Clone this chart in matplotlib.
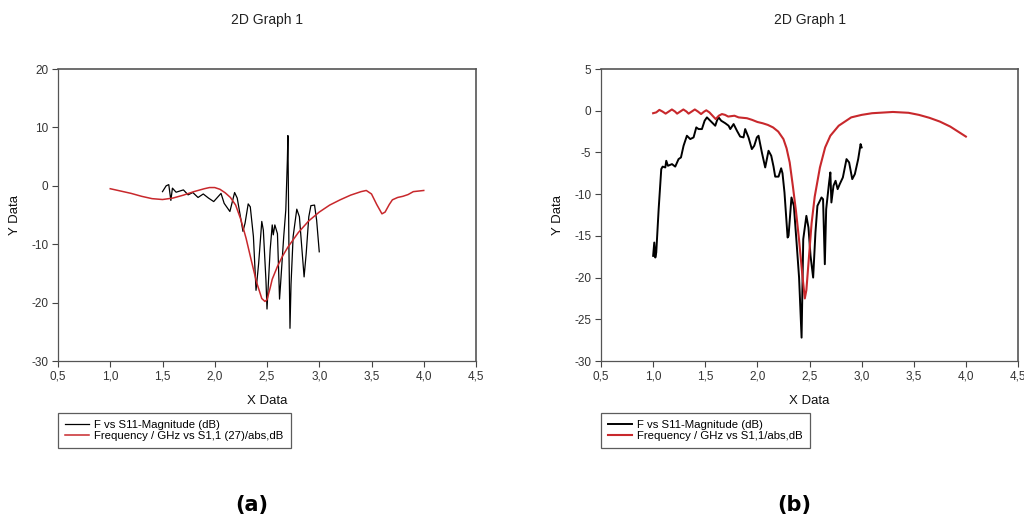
import matplotlib
matplotlib.use("Agg")
import matplotlib.pyplot as plt
from matplotlib.ticker import FuncFormatter

plt.rcParams["font.family"] = ["Liberation Sans", "DejaVu Sans"]
plt.rcParams["axes.unicode_minus"] = False

# ---- panel (a) ----
a_meas_x = [1.50, 1.535, 1.56, 1.58, 1.595, 1.63, 1.70, 1.745, 1.79, 1.84, 1.89, 1.94,
            1.99, 2.02, 2.06, 2.09, 2.145, 2.19, 2.215, 2.27, 2.29, 2.32, 2.34, 2.37,
            2.395, 2.42, 2.45, 2.465, 2.49, 2.50, 2.53, 2.55, 2.56, 2.575, 2.60, 2.62,
            2.63, 2.66, 2.68, 2.695, 2.70, 2.71, 2.72, 2.73, 2.75, 2.785, 2.81, 2.83,
            2.855, 2.875, 2.90, 2.92, 2.955, 2.975, 3.00]
a_meas_y = [-1.0, 0.0, 0.2, -2.5, -0.4, -1.1, -0.7, -1.55, -1.15, -2.0, -1.4, -2.1,
            -2.7, -2.1, -1.3, -3.0, -4.4, -1.15, -2.1, -7.8, -6.4, -3.1, -3.6, -8.7,
            -17.9, -13.3, -6.1, -7.6, -16.2, -21.1, -11.0, -6.7, -8.4, -6.7, -8.2, -19.4,
            -16.8, -8.7, -4.1, 4.5, 8.6, -11.0, -24.4, -16.8, -8.7, -4.0, -5.3, -9.9,
            -15.6, -11.6, -5.3, -3.4, -3.3, -5.9, -11.3]

a_sim_x = [1.0, 1.1, 1.2, 1.3, 1.4, 1.5, 1.6, 1.7, 1.8, 1.9, 1.95, 2.0, 2.05, 2.1,
           2.15, 2.2, 2.25, 2.3, 2.35, 2.4, 2.45, 2.48, 2.5, 2.53, 2.55, 2.6, 2.65,
           2.7, 2.8, 2.9, 3.0, 3.1, 3.2, 3.3, 3.4, 3.45, 3.5, 3.55, 3.6, 3.63, 3.67,
           3.7, 3.75, 3.8, 3.85, 3.9, 3.95, 4.0]
a_sim_y = [-0.5, -0.9, -1.3, -1.8, -2.2, -2.35, -2.1, -1.6, -1.0, -0.5, -0.3, -0.3,
           -0.6, -1.2, -2.0, -3.3, -5.8, -9.0, -12.8, -16.5, -19.3, -19.8, -19.5,
           -17.5, -16.0, -13.8, -12.0, -10.5, -8.0, -6.0, -4.5, -3.3, -2.4, -1.6,
           -1.0, -0.8, -1.4, -3.2, -4.8, -4.5, -3.2, -2.4, -2.0, -1.8, -1.5, -1.0,
           -0.9, -0.8]

# ---- panel (b) ----
b_meas_x = [1.00, 1.011, 1.021, 1.030, 1.053, 1.078, 1.091, 1.117, 1.126, 1.142, 1.181,
            1.212, 1.244, 1.267, 1.292, 1.324, 1.356, 1.388, 1.414, 1.436, 1.468, 1.494,
            1.516, 1.532, 1.564, 1.596, 1.612, 1.628, 1.653, 1.692, 1.724, 1.740, 1.772,
            1.804, 1.835, 1.867, 1.883, 1.915, 1.947, 1.970, 1.995, 2.011, 2.043, 2.075,
            2.107, 2.133, 2.155, 2.171, 2.203, 2.228, 2.241, 2.260, 2.290, 2.299, 2.327,
            2.35, 2.376, 2.40, 2.424, 2.44, 2.47, 2.49, 2.51, 2.535, 2.557, 2.576, 2.615,
            2.63, 2.647, 2.66, 2.688, 2.70, 2.71, 2.73, 2.75, 2.77, 2.79, 2.82, 2.855,
            2.88, 2.91, 2.935, 2.967, 2.99, 3.00]
b_meas_y = [-17.4, -15.8, -17.6, -17.0, -11.8, -7.0, -6.7, -6.8, -6.0, -6.6, -6.4,
            -6.7, -5.8, -5.6, -4.2, -3.0, -3.4, -3.2, -2.0, -2.2, -2.2, -1.2,
            -0.8, -1.0, -1.4, -1.8, -1.2, -0.8, -1.2, -1.5, -1.8, -2.2, -1.6,
            -2.4, -3.1, -3.2, -2.2, -3.2, -4.6, -4.2, -3.2, -3.0, -5.0, -6.8,
            -4.8, -5.4, -6.7, -7.9, -7.9, -6.9, -7.5, -9.8, -15.2, -15.0, -10.4,
            -11.4, -15.8, -20.0, -27.2, -15.4, -12.6, -14.0, -17.4, -20.0, -14.6, -11.4, -10.4,
            -10.6, -18.4, -11.8, -8.6, -7.4, -11.0, -9.0, -8.4, -9.4, -8.8, -8.0, -5.8,
            -6.2, -8.2, -7.6, -5.8, -4.0, -4.4]

b_sim_x = [1.0, 1.03, 1.06, 1.09, 1.12, 1.15, 1.18, 1.21, 1.23, 1.26, 1.29, 1.32, 1.34,
           1.37, 1.40, 1.43, 1.46, 1.49, 1.51, 1.54, 1.57, 1.60, 1.63, 1.66, 1.69, 1.72,
           1.75, 1.78, 1.82, 1.86, 1.9, 1.95, 2.0, 2.05, 2.1, 2.15, 2.2, 2.25, 2.28,
           2.31, 2.34, 2.37, 2.40, 2.43, 2.455, 2.47, 2.49, 2.52, 2.55, 2.6, 2.65, 2.7,
           2.78, 2.9, 3.0, 3.1, 3.3, 3.45, 3.55, 3.65, 3.75, 3.85, 3.95, 4.0]
b_sim_y = [-0.3, -0.2, 0.1, -0.1, -0.35, -0.1, 0.15, -0.1, -0.35, -0.1, 0.15, -0.1,
           -0.35, -0.1, 0.15, -0.1, -0.4, -0.1, 0.05, -0.2, -0.6, -1.0, -0.6, -0.4,
           -0.5, -0.7, -0.65, -0.6, -0.8, -0.85, -0.9, -1.1, -1.35, -1.5, -1.7, -2.0,
           -2.5, -3.4, -4.5, -6.2, -9.0, -12.0, -15.5, -19.5, -22.5, -21.5, -18.3,
           -13.5, -10.3, -6.8, -4.4, -3.0, -1.8, -0.8, -0.5, -0.3, -0.15, -0.25,
           -0.5, -0.85, -1.3, -1.9, -2.7, -3.1]

x_ticks = [0.5, 1.0, 1.5, 2.0, 2.5, 3.0, 3.5, 4.0, 4.5]
a_yticks = [-30, -20, -10, 0, 10, 20]
b_yticks = [-30, -25, -20, -15, -10, -5, 0, 5]

meas_label = "F vs S11-Magnitude (dB)"
a_sim_label = "Frequency / GHz vs S1,1 (27)/abs,dB"
b_sim_label = "Frequency / GHz vs S1,1/abs,dB"

fig = plt.figure(figsize=(10.24, 5.19), dpi=100)
W, H = 1024.0, 519.0

comma = FuncFormatter(lambda v, p: f"{v:.1f}".replace(".", ","))


def setup(ax, yticks):
    ax.set_xlim(0.5, 4.5)
    ax.set_ylim(yticks[0], yticks[-1])
    ax.set_xticks(x_ticks)
    ax.set_yticks(yticks)
    ax.xaxis.set_major_formatter(comma)
    ax.tick_params(direction="out", length=4, width=0.8, labelsize=8.5,
                   colors="#444444", labelcolor="#333333", pad=3)
    for s in ax.spines.values():
        s.set_color("#555555")
        s.set_linewidth(0.9)
    ax.spines["top"].set_linewidth(1.2)
    ax.spines["right"].set_linewidth(1.2)


panels = [
    ((58, 476), a_meas_x, a_meas_y, a_sim_x, a_sim_y, a_yticks, a_sim_label, "(a)", 0.9, 1.1),
    ((601, 1018), b_meas_x, b_meas_y, b_sim_x, b_sim_y, b_yticks, b_sim_label, "(b)", 1.4, 1.5),
]

for (x0, x1), mx, my, sx, sy, yt, slab, tag, lw_m, lw_s in panels:
    ax = fig.add_axes([x0 / W, 1 - 361 / H, (x1 - x0) / W, (361 - 69) / H])
    ax.plot(mx, my, color="black", lw=lw_m, label=meas_label)
    ax.plot(sx, sy, color="#c8282c", lw=lw_s, label=slab)
    setup(ax, yt)
    cx = (x0 + x1) / 2 / W
    fig.text(cx, 1 - 20 / H, "2D Graph 1", ha="center", va="center", fontsize=10, color="#222222")
    fig.text(cx, 1 - 401 / H, "X Data", ha="center", va="center", fontsize=9.5, color="#111111")
    fig.text((x0 - 43) / W, 1 - 215 / H, "Y Data", ha="center", va="center", rotation=90,
             fontsize=9.5, color="#111111")
    leg = ax.legend(loc="upper left", bbox_to_anchor=(x0 / W, 1 - 413 / H),
                    bbox_transform=fig.transFigure, fontsize=8.2, frameon=True, fancybox=False,
                    handlelength=2.1, handletextpad=0.5, borderpad=0.6, labelspacing=0.1,
                    borderaxespad=0)
    leg.get_frame().set_edgecolor("#333333")
    leg.get_frame().set_linewidth(0.9)
    fig.text((x0 + x1) / 2 / W - 15 / W, 1 - 505 / H, tag, ha="center", va="center",
             fontsize=15, fontweight="bold", family="DejaVu Sans")

fig.savefig("out.png", dpi=100)
